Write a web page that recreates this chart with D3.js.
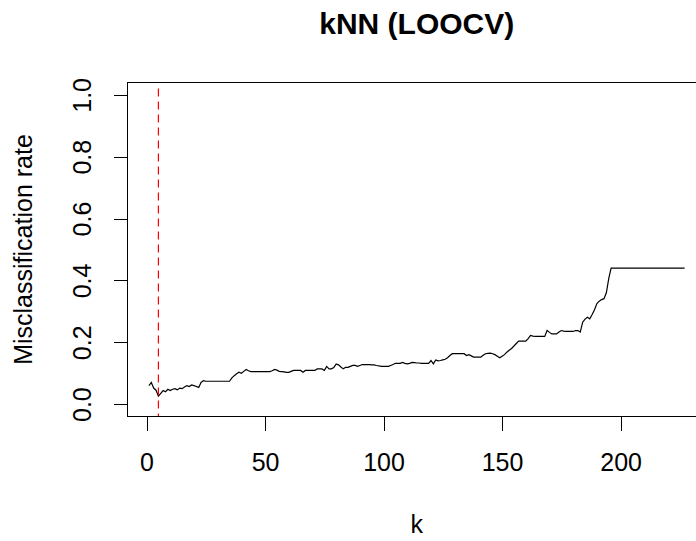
<!DOCTYPE html>
<html>
<head>
<meta charset="utf-8">
<script src="https://cdn.jsdelivr.net/npm/d3@7"></script>
<style>
  html, body { margin: 0; padding: 0; background: #fff; }
  svg { display: block; font-family: "Liberation Sans", Arial, sans-serif; }
</style>
</head>
<body>
<svg id="chart" width="696" height="541"></svg>
<script>
// ---- data ----
const kValues = d3.range(1, 228);
const errorRates = [
  0.060, 0.070, 0.052, 0.045, 0.026, 0.035, 0.044, 0.040, 0.048, 0.044,
  0.048, 0.050, 0.046, 0.052, 0.050, 0.055, 0.060, 0.057, 0.062, 0.060,
  0.057, 0.054, 0.070, 0.076, 0.074, 0.074, 0.074, 0.074, 0.074, 0.074,
  0.074, 0.074, 0.074, 0.074, 0.074, 0.085, 0.092, 0.098, 0.103, 0.100,
  0.106, 0.112, 0.108, 0.105, 0.105, 0.105, 0.105, 0.105, 0.105, 0.105,
  0.105, 0.105, 0.108, 0.112, 0.110, 0.106, 0.105, 0.104, 0.103, 0.103,
  0.106, 0.109, 0.109, 0.109, 0.109, 0.103, 0.109, 0.109, 0.109, 0.109,
  0.109, 0.114, 0.114, 0.114, 0.109, 0.122, 0.114, 0.114, 0.118, 0.130,
  0.127, 0.120, 0.114, 0.119, 0.119, 0.122, 0.125, 0.125, 0.122, 0.125,
  0.128, 0.128, 0.128, 0.128, 0.127, 0.127, 0.125, 0.124, 0.122, 0.122,
  0.122, 0.122, 0.125, 0.128, 0.132, 0.132, 0.132, 0.135, 0.132, 0.130,
  0.132, 0.135, 0.134, 0.133, 0.133, 0.132, 0.132, 0.132, 0.132, 0.141,
  0.130, 0.143, 0.140, 0.141, 0.143, 0.145, 0.150, 0.157, 0.163, 0.163,
  0.163, 0.163, 0.163, 0.163, 0.157, 0.160, 0.156, 0.152, 0.152, 0.152,
  0.152, 0.158, 0.163, 0.164, 0.165, 0.163, 0.160, 0.155, 0.150, 0.155,
  0.160, 0.168, 0.174, 0.180, 0.188, 0.196, 0.204, 0.204, 0.204, 0.204,
  0.212, 0.222, 0.220, 0.219, 0.219, 0.219, 0.219, 0.219, 0.238, 0.232,
  0.227, 0.227, 0.227, 0.233, 0.238, 0.236, 0.235, 0.235, 0.235, 0.235,
  0.238, 0.238, 0.233, 0.265, 0.275, 0.281, 0.276, 0.290, 0.305, 0.325,
  0.333, 0.338, 0.341, 0.360, 0.406, 0.440, 0.440, 0.440, 0.440, 0.440,
  0.440, 0.440, 0.440, 0.440, 0.440, 0.440, 0.440, 0.440, 0.440, 0.440,
  0.440, 0.440, 0.440, 0.440, 0.440, 0.440, 0.440, 0.440, 0.440, 0.440,
  0.440, 0.440, 0.440, 0.440, 0.440, 0.440, 0.440
];
const bestK = 5;
const xTicks = [0, 50, 100, 150, 200];
const yTicks = [0.0, 0.2, 0.4, 0.6, 0.8, 1.0];
const yLimits = [0, 1];
const titleText = "kNN (LOOCV)";
const xLabel = "k";
const yLabel = "Misclassification rate";

// ---- layout ----
const svg = d3.select("#chart");
const plot = { left: 127.5, right: 706, top: 82.5, bottom: 416.5 };

// R-style 4% axis extension
const xr = d3.extent(kValues), xpad = 0.04 * (xr[1] - xr[0]);
const yr = yLimits, ypad = 0.04 * (yr[1] - yr[0]);
const x = d3.scaleLinear().domain([xr[0] - xpad, xr[1] + xpad]).range([plot.left, plot.right]);
const y = d3.scaleLinear().domain([yr[0] - ypad, yr[1] + ypad]).range([plot.bottom, plot.top]);

const fs = 25;

// data line
const data = kValues.map((k, i) => ({ k, v: errorRates[i] }));
svg.append("path")
  .datum(data)
  .attr("fill", "none")
  .attr("stroke", "#000")
  .attr("stroke-width", 1.2)
  .attr("d", d3.line().x(d => x(d.k)).y(d => y(d.v)));

// vertical dashed line at best k
svg.append("line")
  .attr("x1", x(bestK)).attr("x2", x(bestK))
  .attr("y1", plot.top + 6).attr("y2", plot.bottom)
  .attr("stroke", "#ff0000")
  .attr("stroke-width", 1.2)
  .attr("stroke-dasharray", "8,5");

// box
svg.append("rect")
  .attr("x", plot.left).attr("y", plot.top)
  .attr("width", plot.right - plot.left).attr("height", plot.bottom - plot.top)
  .attr("fill", "none").attr("stroke", "#000").attr("stroke-width", 1)
  .attr("shape-rendering", "crispEdges");

// x axis
const xAxis = d3.axisBottom(x).tickValues(xTicks).tickSize(14).tickPadding(0).tickFormat(d3.format("d"));
const gx = svg.append("g").attr("transform", `translate(0,${plot.bottom})`).call(xAxis);
gx.select(".domain").attr("d", `M${x(xTicks[0])},0H${x(xTicks[xTicks.length - 1])}`).attr("stroke", "#000").attr("shape-rendering", "crispEdges");
gx.selectAll(".tick line").attr("stroke", "#000").attr("shape-rendering", "crispEdges");
gx.selectAll(".tick text")
  .attr("font-size", fs).attr("font-family", "Liberation Sans, Arial, sans-serif")
  .attr("fill", "#000").attr("dy", null).attr("y", 471 - plot.bottom);

// y axis
const yAxis = d3.axisLeft(y).tickValues(yTicks).tickSize(14).tickFormat(d3.format(".1f"));
const gy = svg.append("g").attr("transform", `translate(${plot.left},0)`).call(yAxis);
gy.select(".domain").attr("d", `M0,${y(yTicks[0])}V${y(yTicks[yTicks.length - 1])}`).attr("stroke", "#000").attr("shape-rendering", "crispEdges");
gy.selectAll(".tick line").attr("stroke", "#000").attr("shape-rendering", "crispEdges");
gy.selectAll(".tick text")
  .attr("font-size", fs).attr("font-family", "Liberation Sans, Arial, sans-serif")
  .attr("fill", "#000")
  .attr("x", null).attr("dy", null)
  .attr("text-anchor", "middle")
  .attr("transform", `translate(${91 - plot.left},0) rotate(-90)`);

// title
svg.append("text")
  .attr("x", (plot.left + plot.right) / 2).attr("y", 33.5)
  .attr("text-anchor", "middle")
  .attr("font-size", 30).attr("font-weight", "bold")
  .text(titleText);

// axis labels
svg.append("text")
  .attr("x", (plot.left + plot.right) / 2).attr("y", 533)
  .attr("text-anchor", "middle").attr("font-size", fs)
  .text(xLabel);

svg.append("text")
  .attr("transform", `translate(32,${(plot.top + plot.bottom) / 2}) rotate(-90)`)
  .attr("text-anchor", "middle").attr("font-size", fs)
  .text(yLabel);
</script>
</body>
</html>
